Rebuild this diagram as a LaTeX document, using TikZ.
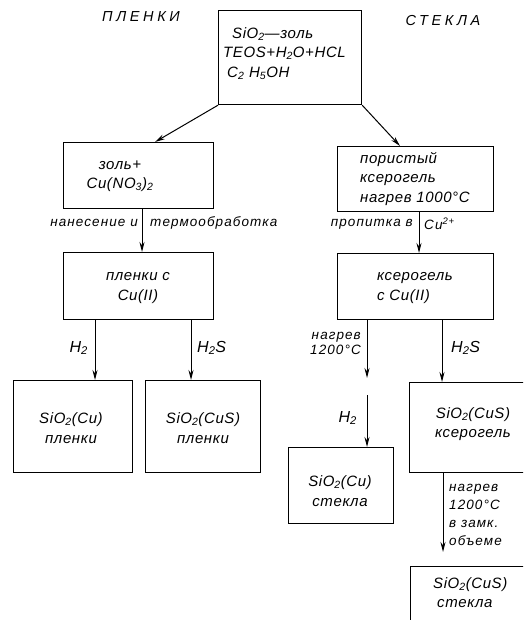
\documentclass[tikz,border=0pt]{standalone}
\usepackage{fontspec}
\setmainfont{Liberation Sans}
\usetikzlibrary{arrows.meta}
\tikzset{
  x=1pt, y=-1pt,
  box/.style={draw, line width=1.2pt, inner sep=0pt, anchor=north west},
  txt/.style={font=\itshape\fontsize{15}{19.5}\selectfont\addfontfeature{LetterSpace=4}, inner sep=0pt, align=center},
  txtl/.style={txt, align=left},
  lab/.style={font=\itshape\fontsize{13.5}{15}\selectfont\addfontfeature{LetterSpace=8}, inner sep=0pt},
  hlab/.style={font=\itshape\fontsize{16}{18}\selectfont\addfontfeature{LetterSpace=8}, inner sep=0pt},
  ttl/.style={font=\itshape\fontsize{14.5}{17}\selectfont\addfontfeature{LetterSpace=25}, inner sep=0pt},
  arr/.style={line width=1pt, -{Stealth[length=10pt,width=5pt]}},
}
\newcommand{\sbs}[1]{\textsubscript{#1}}
\newcommand{\sps}[1]{\textsuperscript{#1}}
\begin{document}
\begin{tikzpicture}
\useasboundingbox (0,0) rectangle (523,620);
\clip (0,0) rectangle (523,620);
% titles
\node[ttl] (tp) at (141,17) {ПЛЕНКИ};
\node[ttl] (ts) at (443,21) {СТЕКЛА};
% boxes
\node[box, minimum width=143pt, minimum height=94pt] (top) at (218,10) {};
\node[box, minimum width=150pt, minimum height=66pt] (l2) at (63,142) {};
\node[box, minimum width=156pt, minimum height=65pt] (r2) at (337,146) {};
\node[box, minimum width=150pt, minimum height=67pt] (l3) at (63,252) {};
\node[box, minimum width=156pt, minimum height=66pt] (r3) at (337,253) {};
\node[box, minimum width=119pt, minimum height=92pt] (la) at (13,380) {};
\node[box, minimum width=115pt, minimum height=92pt] (lb) at (145,380) {};
\node[box, minimum width=105pt, minimum height=76pt] (rc) at (288,447) {};
\node[box, minimum width=130pt, minimum height=90pt] (rk) at (409,382) {};
\node[box, minimum width=130pt, minimum height=90pt] (rf) at (410,566) {};
% box texts
\node[txtl, anchor=north west] (ttop) at (223,27) {\hspace*{9pt}SiO\sbs{2}—золь\\TEOS+H\sbs{2}O+HCL\\\hspace*{4pt}C\sbs{2} H\sbs{5}OH};
\node[txt] (tl2) at (120,176) {золь+\\Cu(NO\sbs{3})\sbs{2}};
\node[txtl, anchor=west] (tr2) at (360,179) {пористый\\ксерогель\\нагрев 1000°C};
\node[txt] (tl3) at (138,288) {пленки с\\Cu(II)};
\node[txtl, anchor=west] (tr3) at (377,288) {ксерогель\\с Cu(II)};
\node[txt] (tla) at (71,428) {SiO\sbs{2}(Cu)\\пленки};
\node[txt] (tlb) at (203,428) {SiO\sbs{2}(CuS)\\пленки};
\node[txt] (trc) at (340,491) {SiO\sbs{2}(Cu)\\стекла};
\node[txt] (trk) at (473,424) {SiO\sbs{2}(CuS)\\ксерогель};
\node[txtl, anchor=north west] (trf) at (433,577) {SiO\sbs{2}(CuS)\\\hspace*{4pt}стекла};
% connectors
\draw[arr] (top.south west) -- (155,142);
\draw[arr] (top.south east) -- (400,146);
\draw[arr] (l2.south -| 142,0) -- (l3.north -| 142,0);
\draw[arr] (r2.south -| 419,0) -- (r3.north -| 419,0);
\draw[arr] (l3.south -| 95,0) -- (la.north -| 95,0);
\draw[arr] (l3.south -| 191,0) -- (lb.north -| 191,0);
\coordinate (ha) at (367,378);
\coordinate (hb) at (367,395);
\coordinate (fe) at (443,552);
\draw[arr] (r3.south -| ha) -- (ha);
\draw[arr] (hb) -- (rc.north -| hb);
\draw[arr] (r3.south -| 442,0) -- (rk.north -| 442,0);
\draw[arr] (rk.south -| fe) -- (fe);
% labels
\node[lab, anchor=east] (n1) at (138,223) {нанесение и};
\node[lab, anchor=west] (n2) at (150,223) {термообработка};
\node[lab, anchor=east] (n3) at (413,224) {пропитка в};
\node[lab, anchor=west] (n4) at (424,224) {Cu\sps{2+}};
\node[hlab, anchor=east] (n5) at (88,348) {H\sbs{2}};
\node[hlab, anchor=west] (n6) at (197,348) {H\sbs{2}S};
\node[lab, anchor=east, align=right] (n7) at (361,343) {нагрев\\1200°C};
\node[hlab, anchor=west] (n8) at (451,348) {H\sbs{2}S};
\node[hlab, anchor=east] (n9) at (357,418) {H\sbs{2}};
\node[lab, anchor=west, align=left, font=\itshape\fontsize{13.5}{18}\selectfont\addfontfeature{LetterSpace=8}] (n10) at (449,515) {нагрев\\1200°C\\в замк.\\объеме};
\end{tikzpicture}
\end{document}
